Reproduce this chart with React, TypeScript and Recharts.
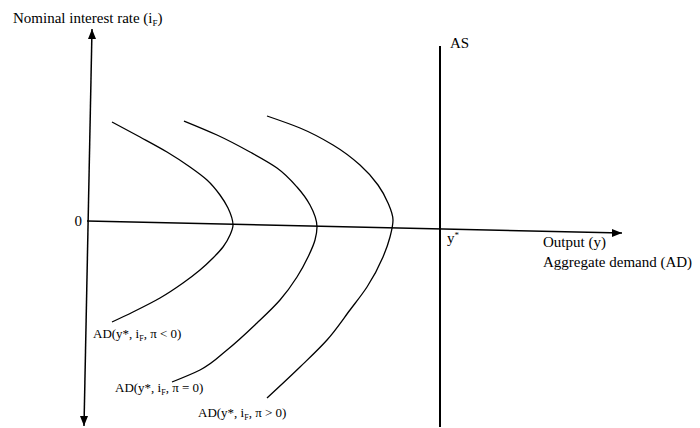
import { ComposedChart, Line, Scatter, XAxis, YAxis } from 'recharts';

// units: output (x) and nominal rate (y), origin where the two axes cross
const adBelowZero = [
  { x: 2.5, y: 10.0 },
  { x: 5.3, y: 8.5 },
  { x: 8.0, y: 7.0 },
  { x: 10.3, y: 5.5 },
  { x: 12.0, y: 4.2 },
  { x: 13.3, y: 2.7 },
  { x: 14.1, y: 1.4 },
  { x: 14.6, y: -0.3 },
  { x: 14.3, y: -1.3 },
  { x: 13.6, y: -2.5 },
  { x: 12.6, y: -3.6 },
  { x: 11.3, y: -4.8 },
  { x: 9.6, y: -6.1 },
  { x: 7.3, y: -7.6 },
  { x: 4.6, y: -9.0 },
  { x: 2.5, y: -10.0 },
];

const adAtZero = [
  { x: 9.7, y: 10.1 },
  { x: 13.0, y: 8.7 },
  { x: 16.3, y: 7.0 },
  { x: 19.0, y: 5.4 },
  { x: 21.0, y: 3.5 },
  { x: 22.3, y: 1.7 },
  { x: 23.0, y: -0.5 },
  { x: 22.8, y: -1.8 },
  { x: 22.1, y: -3.5 },
  { x: 21.0, y: -5.5 },
  { x: 19.3, y: -7.8 },
  { x: 17.0, y: -10.1 },
  { x: 14.0, y: -12.8 },
  { x: 11.3, y: -14.8 },
  { x: 8.5, y: -16.0 },
];

const adAboveZero = [
  { x: 18.0, y: 10.6 },
  { x: 21.3, y: 9.4 },
  { x: 24.6, y: 7.7 },
  { x: 27.3, y: 5.7 },
  { x: 29.1, y: 3.7 },
  { x: 30.1, y: 1.9 },
  { x: 30.6, y: 0.2 },
  { x: 30.3, y: -1.5 },
  { x: 29.6, y: -3.5 },
  { x: 28.0, y: -6.5 },
  { x: 26.3, y: -8.8 },
  { x: 24.0, y: -11.8 },
  { x: 21.3, y: -14.5 },
  { x: 18.0, y: -17.6 },
];

const asLine = [
  { x: 35.3, y: 17.6 },
  { x: 35.3, y: -20.5 },
];

const rateAxis = [
  { x: 0.5, y: 19.3 },
  { x: -0.3, y: -20.4 },
];

const outputAxis = [
  { x: 0, y: 0.1 },
  { x: 53.5, y: -1.1 },
];

const arrowTips = [
  { x: 0.5, y: 19.3, dir: 'up' },
  { x: -0.3, y: -20.4, dir: 'down' },
  { x: 53.5, y: -1.1, dir: 'right' },
];

// _X = subscript, ^X = superscript
const axisLabels = [
  { x: -7.4, y: 19.9, text: 'Nominal interest rate (i_F)', anchor: 'start' },
  { x: -0.5, y: -0.4, text: '0', anchor: 'end' },
  { x: 36.3, y: 17.4, text: 'AS', anchor: 'start' },
  { x: 36.0, y: -2.1, text: 'y^*', anchor: 'start' },
  { x: 45.6, y: -2.5, text: 'Output (y)', anchor: 'start' },
  { x: 45.6, y: -4.5, text: 'Aggregate demand (AD)', anchor: 'start' },
];

const curveLabels = [
  { x: 0.6, y: -11.6, text: 'AD(y*, i_F, π < 0)', anchor: 'start' },
  { x: 2.8, y: -17.0, text: 'AD(y*, i_F, π = 0)', anchor: 'start' },
  { x: 11.1, y: -19.5, text: 'AD(y*, i_F, π > 0)', anchor: 'start' },
];

const FONT = '"Liberation Serif", "Times New Roman", Times, serif';

function Arrow(props: any) {
  const { cx, cy, payload } = props;
  let pts = '';
  if (payload.dir === 'up') pts = `${cx},${cy} ${cx - 4},${cy + 10} ${cx + 4},${cy + 10}`;
  else if (payload.dir === 'down') pts = `${cx},${cy} ${cx - 4},${cy - 10} ${cx + 4},${cy - 10}`;
  else pts = `${cx},${cy} ${cx - 10},${cy - 4} ${cx - 10},${cy + 4}`;
  return <polygon points={pts} fill="#000" />;
}

function makeText(size: number) {
  return (props: any) => {
    const { cx, cy, payload } = props;
    const parts = payload.text.split(/([_^].)/).filter((p: string) => p !== '');
    const small = Math.round(size * 0.6);
    let shift = 0;
    const spans = parts.map((p: string, i: number) => {
      if (p[0] === '_' || p[0] === '^') {
        const d = p[0] === '_' ? 3 : -5;
        shift = d;
        return (
          <tspan key={i} dy={d} fontSize={small}>
            {p[1]}
          </tspan>
        );
      }
      const back = -shift;
      shift = 0;
      return (
        <tspan key={i} dy={back} fontSize={size}>
          {p}
        </tspan>
      );
    });
    return (
      <text x={cx} y={cy} textAnchor={payload.anchor} fontSize={size} fontFamily={FONT} fill="#000">
        {spans}
      </text>
    );
  };
}

export default function App() {
  return (
    <div style={{ position: 'absolute', left: 0, top: 0, background: '#fff', fontFamily: FONT }}>
      <ComposedChart width={700} height={428} margin={{ top: 0, right: 0, bottom: 0, left: 0 }}>
        <XAxis type="number" dataKey="x" domain={[-8.7, 61.3]} hide allowDataOverflow />
        <YAxis type="number" dataKey="y" domain={[-20.6, 22.2]} hide allowDataOverflow />

        <Line data={rateAxis} dataKey="y" stroke="#000" strokeWidth={1.5} dot={false} activeDot={false} isAnimationActive={false} />
        <Line data={outputAxis} dataKey="y" stroke="#000" strokeWidth={1.5} dot={false} activeDot={false} isAnimationActive={false} />
        <Line data={asLine} dataKey="y" stroke="#000" strokeWidth={2} dot={false} activeDot={false} isAnimationActive={false} />

        <Line data={adBelowZero} dataKey="y" type="monotoneY" stroke="#000" strokeWidth={1.3} dot={false} activeDot={false} isAnimationActive={false} />
        <Line data={adAtZero} dataKey="y" type="monotoneY" stroke="#000" strokeWidth={1.3} dot={false} activeDot={false} isAnimationActive={false} />
        <Line data={adAboveZero} dataKey="y" type="monotoneY" stroke="#000" strokeWidth={1.3} dot={false} activeDot={false} isAnimationActive={false} />

        <Scatter data={arrowTips} shape={Arrow} isAnimationActive={false} />
        <Scatter data={axisLabels} shape={makeText(15)} isAnimationActive={false} />
        <Scatter data={curveLabels} shape={makeText(13)} isAnimationActive={false} />
      </ComposedChart>
    </div>
  );
}
